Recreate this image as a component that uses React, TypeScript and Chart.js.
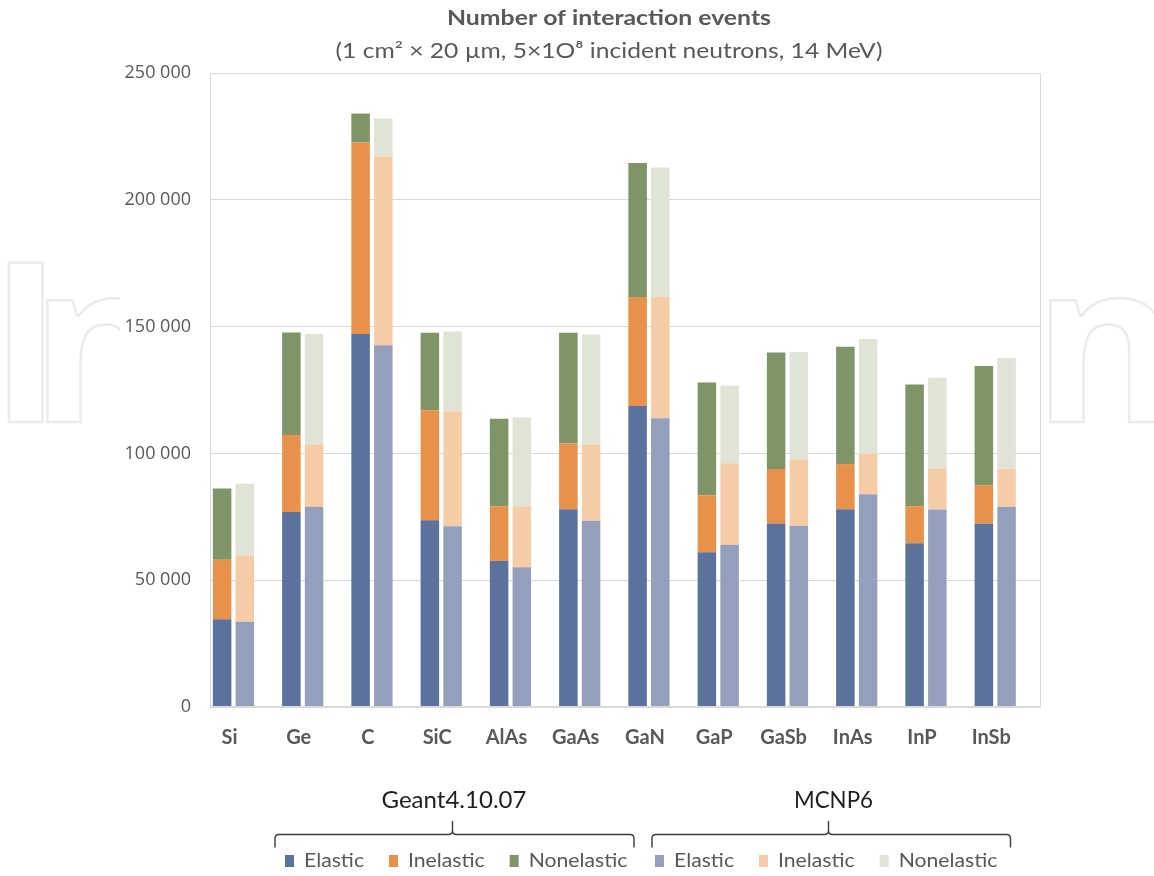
import React, { useEffect, useRef } from "react";
import { Chart, registerables } from "chart.js";

Chart.register(...registerables);

// ---------- data ----------
const categories = ["Si", "Ge", "C", "SiC", "AlAs", "GaAs", "GaN", "GaP", "GaSb", "InAs", "InP", "InSb"];
const g4Elastic = [34600, 76900, 147100, 73600, 57700, 78000, 118700, 61000, 72400, 78000, 64600, 72400];
const g4Inelastic = [23500, 30400, 75500, 43400, 21500, 25900, 43000, 22500, 21400, 17800, 14600, 15100];
const g4Nonelastic = [28100, 40400, 11400, 30600, 34500, 43700, 52800, 44500, 46000, 46300, 48000, 47000];
const mcElastic = [33600, 79000, 142600, 71300, 55100, 73400, 113900, 64000, 71400, 83900, 77900, 79000];
const mcInelastic = [26000, 24600, 74500, 45300, 24100, 30200, 47800, 32100, 26100, 15900, 16200, 14800];
const mcNonelastic = [28400, 43500, 15000, 31500, 35000, 43300, 51000, 30600, 42500, 45300, 35700, 43800];
const yTicks = [0, 50000, 100000, 150000, 200000, 250000];
const seriesNames = ["Elastic", "Inelastic", "Nonelastic"];
const groupNames = ["Geant4.10.07", "MCNP6"];
const titleText = "Number of interaction events";
const subtitleText = "(1 cm\u00B2 \u00D7 20 \u00B5m, 5\u00D71O\u2078 incident neutrons, 14 MeV)";

// ---------- styles ----------
const FONT = "'Open Sans', 'Noto Sans', sans-serif";
const LFONT = "Lato, 'Open Sans', sans-serif";
const TEXT = "#595959";
const GRID = "#d9d9d9";
const g4Colors = ["#5a729c", "#e8914a", "#7f9467"];
const mcColors = ["#949fbb", "#f6cca7", "#dfe4d6"];

const fmt = (v: number) => String(v).replace(/\B(?=(\d{3})+(?!\d))/g, " ");

function fitText(
  ctx: CanvasRenderingContext2D,
  text: string,
  x: number,
  y: number,
  width: number,
  font: string,
  color: string,
  align: CanvasTextAlign
) {
  ctx.save();
  ctx.font = font;
  ctx.fillStyle = color;
  ctx.textBaseline = "alphabetic";
  ctx.textAlign = align;
  const w = ctx.measureText(text).width || 1;
  ctx.translate(x, y);
  ctx.scale(width / w, 1);
  ctx.fillText(text, 0, 0);
  ctx.restore();
}

function brace(ctx: CanvasRenderingContext2D, x1: number, x2: number, tip: number, yLine: number, yTop: number, yEnd: number) {
  const r = 4;
  ctx.beginPath();
  ctx.moveTo(x1, yEnd);
  ctx.lineTo(x1, yLine + r);
  ctx.quadraticCurveTo(x1, yLine, x1 + r, yLine);
  ctx.lineTo(tip - r, yLine);
  ctx.quadraticCurveTo(tip, yLine, tip, yLine - r);
  ctx.lineTo(tip, yTop);
  ctx.moveTo(tip, yLine - r);
  ctx.quadraticCurveTo(tip, yLine, tip + r, yLine);
  ctx.lineTo(x2 - r, yLine);
  ctx.quadraticCurveTo(x2, yLine, x2, yLine + r);
  ctx.lineTo(x2, yEnd);
  ctx.stroke();
}

const decorPlugin = {
  id: "decor",
  beforeDraw(chart: any) {
    // faint watermark outline
    const ctx: CanvasRenderingContext2D = chart.ctx;
    const W = chart.width;
    ctx.save();
    ctx.beginPath();
    ctx.rect(0, 0, 120, chart.height);
    ctx.rect(1045, 0, W - 1045, chart.height);
    ctx.clip();
    ctx.font = `700 222px ${FONT}`;
    ctx.strokeStyle = "#ebebeb";
    ctx.lineWidth = 2.5;
    ctx.textBaseline = "alphabetic";
    ctx.textAlign = "left";
    ctx.strokeText("I", -11, 422);
    ctx.strokeText("n", 30, 422);
    ctx.strokeText("n", 1033, 422);
    ctx.restore();
  },
  afterDraw(chart: any) {
    const ctx: CanvasRenderingContext2D = chart.ctx;
    const ca = chart.chartArea;
    // plot frame
    ctx.save();
    ctx.strokeStyle = GRID;
    ctx.lineWidth = 1;
    const l = Math.round(ca.left) + 0.5;
    const t = Math.round(ca.top) + 0.5;
    const r = Math.round(ca.right) - 0.5;
    const b = Math.round(ca.bottom) - 0.5;
    ctx.strokeRect(l, t, r - l, b - t);
    ctx.restore();

    // titles
    const cx = ca.left + 399;
    fitText(ctx, titleText, cx, ca.top - 48, 324, `700 21px ${LFONT}`, TEXT, "center");
    fitText(ctx, subtitleText, cx, ca.top - 15, 547, `400 21px ${LFONT}`, TEXT, "center");

    // group labels and braces
    const groups = [
      { name: groupNames[0], cx: ca.left + 244, x1: ca.left + 65, x2: ca.left + 424, tip: ca.left + 242.5, start: ca.left + 75, colors: g4Colors, w: 145 },
      { name: groupNames[1], cx: ca.left + 623.5, x1: ca.left + 442, x2: ca.left + 800.5, tip: ca.left + 618.5, start: ca.left + 445, colors: mcColors, w: 79 },
    ];
    const baseLabel = ca.bottom + 101;
    ctx.save();
    ctx.strokeStyle = "#3a3a3a";
    ctx.lineWidth = 1.4;
    groups.forEach((g) => {
      fitText(ctx, g.name, g.cx, baseLabel, g.w, `400 23px ${LFONT}`, "#1f1f1f", "center");
      brace(ctx, g.x1, g.x2, g.tip, ca.bottom + 127.5, ca.bottom + 114, ca.bottom + 140.5);
    });
    ctx.restore();

    // legend
    const legFont = `400 18.5px ${LFONT}`;
    ctx.save();
    ctx.font = legFont;
    const s = 60 / ctx.measureText(seriesNames[0]).width;
    ctx.restore();
    const legBase = ca.bottom + 160;
    groups.forEach((g) => {
      let x = g.start;
      seriesNames.forEach((name, i) => {
        ctx.fillStyle = g.colors[i];
        ctx.fillRect(x, legBase - 12, 9, 12);
        x += 9 + 10;
        ctx.save();
        ctx.font = legFont;
        const tw = ctx.measureText(name).width * s;
        ctx.restore();
        fitText(ctx, name, x, legBase, tw, legFont, TEXT, "left");
        x += tw + 25;
      });
    });
  },
};

function App() {
  const ref = useRef<HTMLCanvasElement | null>(null);

  useEffect(() => {
    if (!ref.current) return;
    const pts = (arr: number[]) => arr.map((v, i) => ({ x: i, y: v }));
    const ds = (label: string, data: number[], color: string, stack: string) => ({
      label,
      data: pts(data),
      backgroundColor: color,
      borderWidth: 0,
      stack,
      categoryPercentage: 0.656,
      barPercentage: 0.815,
    });
    const chart = new Chart(ref.current, {
      type: "bar",
      data: {
        datasets: [
          ds("Elastic", g4Elastic, g4Colors[0], "g4"),
          ds("Inelastic", g4Inelastic, g4Colors[1], "g4"),
          ds("Nonelastic", g4Nonelastic, g4Colors[2], "g4"),
          ds("Elastic", mcElastic, mcColors[0], "mc"),
          ds("Inelastic", mcInelastic, mcColors[1], "mc"),
          ds("Nonelastic", mcNonelastic, mcColors[2], "mc"),
        ],
      },
      options: {
        responsive: false,
        animation: false,
        layout: { padding: { top: 73, right: 113, left: 0, bottom: 0 } },
        plugins: {
          legend: { display: false },
          title: { display: false },
          tooltip: { enabled: false },
        },
        scales: {
          x: {
            type: "linear",
            min: -0.339,
            max: 11.661,
            offset: false,
            grid: { display: false, drawTicks: false },
            border: { display: false },
            ticks: {
              autoSkip: false,
              includeBounds: false,
              maxTicksLimit: 40,
              maxRotation: 0,
              minRotation: 0,
              padding: 19,
              labelOffset: -4,
              color: TEXT,
              font: { family: LFONT, size: 20, weight: "bold" },
              callback: (v: any) => (Number.isInteger(v) && categories[v] !== undefined ? categories[v] : ""),
            },
            afterFit: (s: any) => {
              s.height = 169;
            },
          },
          y: {
            stacked: true,
            min: yTicks[0],
            max: yTicks[yTicks.length - 1],
            grid: { color: GRID, drawTicks: false, lineWidth: 1 },
            border: { display: false },
            afterBuildTicks: (s: any) => {
              s.ticks = yTicks.map((v) => ({ value: v }));
            },
            ticks: {
              padding: 19,
              color: TEXT,
              font: { family: FONT, size: 18 },
              callback: (v: any) => fmt(Number(v)),
            },
            afterFit: (s: any) => {
              s.width = 210;
            },
          },
        },
      } as any,
      plugins: [decorPlugin],
    });
    return () => chart.destroy();
  }, []);

  return (
    <div style={{ position: "absolute", left: 0, top: 0, width: 1154, height: 876, background: "#fff" }}>
      <canvas ref={ref} width={1154} height={876} style={{ display: "block" }} />
    </div>
  );
}

export default App;
